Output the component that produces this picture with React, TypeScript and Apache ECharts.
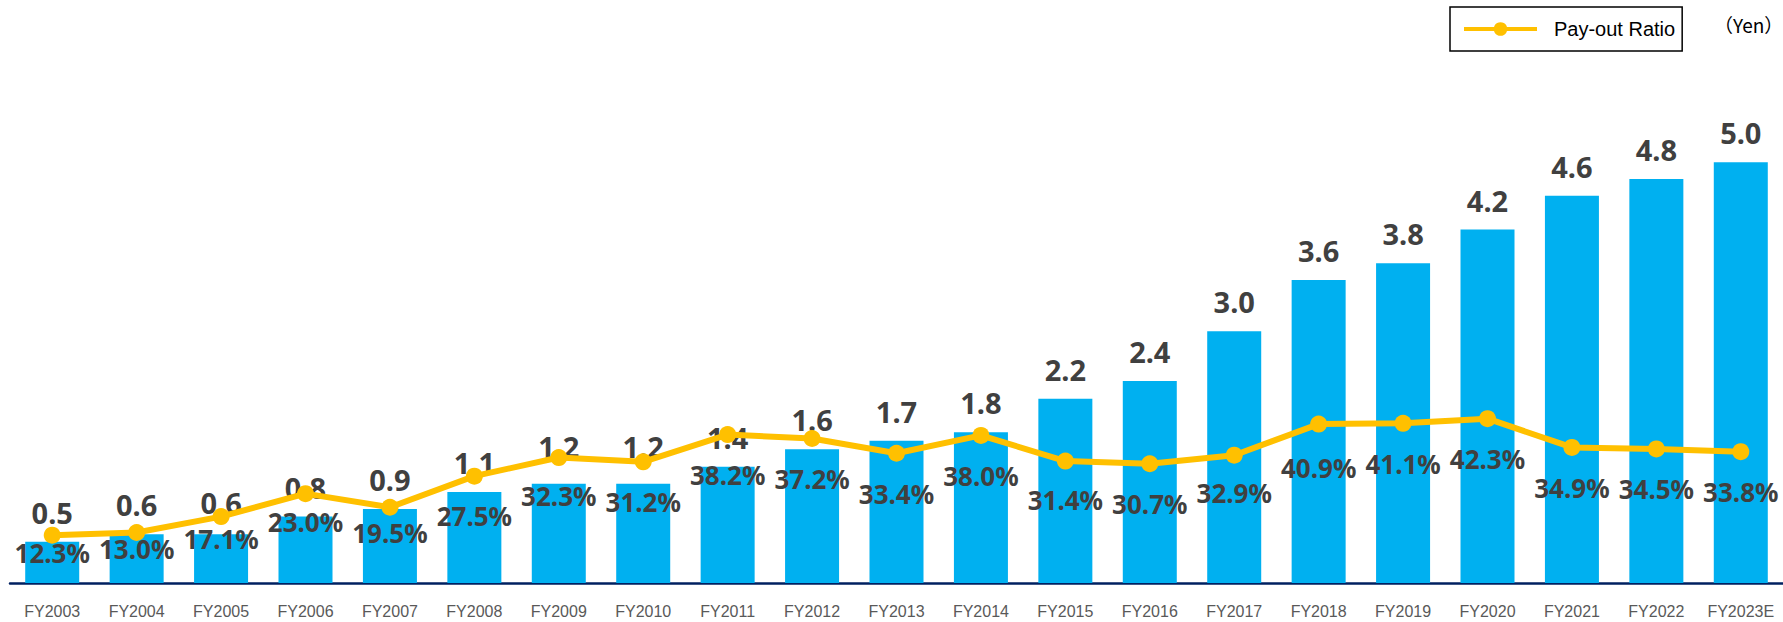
import React, { useEffect, useRef } from "react";
import * as echarts from "echarts";

const categories = [
  "FY2003", "FY2004", "FY2005", "FY2006", "FY2007", "FY2008", "FY2009",
  "FY2010", "FY2011", "FY2012", "FY2013", "FY2014", "FY2015", "FY2016",
  "FY2017", "FY2018", "FY2019", "FY2020", "FY2021", "FY2022", "FY2023E",
];

// Dividend per share (Yen)
const dividends = [
  0.49, 0.58, 0.58, 0.79, 0.88, 1.08, 1.18, 1.18, 1.38, 1.59, 1.69,
  1.79, 2.19, 2.4, 2.99, 3.6, 3.8, 4.2, 4.6, 4.8, 5.0,
];

// Pay-out ratio (%)
const payoutRatio = [
  12.3, 13.0, 17.1, 23.0, 19.5, 27.5, 32.3, 31.2, 38.2, 37.2, 33.4,
  38.0, 31.4, 30.7, 32.9, 40.9, 41.1, 42.3, 34.9, 34.5, 33.8,
];

// label distance styling (per category)
const barLabelDistance = [
  15, 15, 17, 15, 15, 15, 23, 23, 15, 15, 15, 15, 15, 15, 15, 15, 15, 15, 15, 15, 15,
];
const pctLabelDistance = [
  -4, -5, 1, 7, 4, 18, 17, 19, 19, 19, 19, 19, 17, 19, 16, 22, 19, 19, 19, 19, 19,
];

export default function App() {
  const ref = useRef<HTMLDivElement>(null);

  useEffect(() => {
    if (!ref.current) return;
    const chart = echarts.init(ref.current, undefined, { renderer: "svg" });
    const labelColor = "#404040";
    chart.setOption({
      animation: false,
      backgroundColor: "#ffffff",
      grid: { left: 10, right: -2, top: 78, bottom: 39 },
      legend: {
        data: ["Pay-out Ratio"],
        left: 1450,
        top: 7,
        itemWidth: 73,
        itemHeight: 17,
        borderColor: "#000000",
        borderWidth: 1.5,
        borderRadius: 0,
        padding: [12, 7, 12, 12],
        lineStyle: { width: 4, color: "#FFC000" },
        itemStyle: { color: "#FFC000" },
        textStyle: {
          fontFamily: "Liberation Sans, Arial, sans-serif",
          fontSize: 20,
          color: "#000000",
          padding: [0, 0, 0, 12],
        },
      },
      graphic: [
        {
          type: "text",
          left: 1714,
          top: 15,
          style: {
            text: "（Yen）",
            fontFamily: "Noto Sans CJK JP, sans-serif",
            fontSize: 19,
            fill: "#000000",
          },
        },
      ],
      xAxis: {
        type: "category",
        data: categories,
        axisLine: { lineStyle: { color: "#002060", width: 2.5 } },
        axisTick: { show: false },
        axisLabel: {
          interval: 0,
          color: "#595959",
          fontSize: 16,
          fontFamily: "Liberation Sans, Arial, sans-serif",
          margin: 20,
        },
      },
      yAxis: [
        { type: "value", min: 0, max: 6, show: false, splitLine: { show: false } },
        { type: "value", min: 0, max: 130, show: false, splitLine: { show: false } },
      ],
      series: [
        {
          name: "Dividend",
          type: "bar",
          yAxisIndex: 0,
          z: 2,
          barWidth: 54,
          itemStyle: { color: "#00B0F0" },
          data: dividends.map((v, i) => ({
            value: v,
            label: { distance: barLabelDistance[i] },
          })),
          label: {
            show: true,
            position: "top",
            color: labelColor,
            fontFamily: "Noto Sans, sans-serif",
            fontWeight: "bold",
            fontSize: 29,
            formatter: (p: any) => Number(p.value).toFixed(1),
          },
        },
        {
          name: "Pay-out Ratio",
          type: "line",
          yAxisIndex: 1,
          z: 3,
          symbol: "circle",
          symbolSize: 17,
          lineStyle: { color: "#FFC000", width: 6 },
          itemStyle: { color: "#FFC000" },
          data: payoutRatio.map((v, i) => ({
            value: v,
            label: { distance: pctLabelDistance[i] },
          })),
          label: {
            show: true,
            position: "bottom",
            color: labelColor,
            fontFamily: "Noto Sans, sans-serif",
            fontWeight: "bold",
            fontSize: 26,
            formatter: (p: any) => Number(p.value).toFixed(1) + "%",
          },
        },
      ],
    });
    return () => chart.dispose();
  }, []);

  return (
    <div
      ref={ref}
      style={{ position: "fixed", left: 0, top: 0, width: 1783, height: 622, background: "#fff" }}
    />
  );
}
